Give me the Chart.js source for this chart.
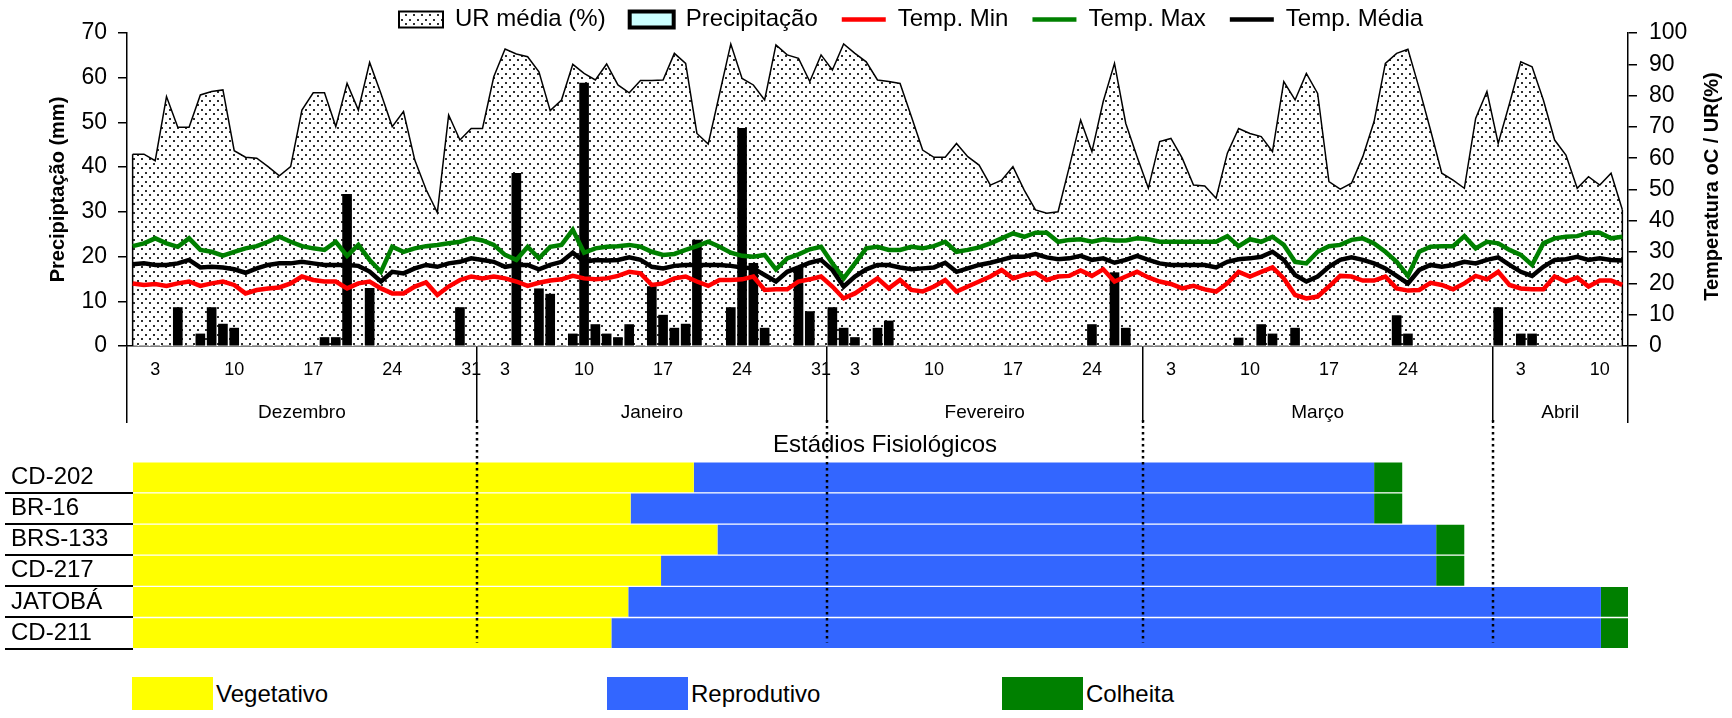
<!DOCTYPE html>
<html lang="pt">
<head>
<meta charset="utf-8">
<title>Clima e estádios fisiológicos</title>
<script src="https://cdn.jsdelivr.net/npm/chart.js@4.4.1/dist/chart.umd.min.js"></script>
<style>
  html, body { margin: 0; padding: 0; background: #fff; overflow: hidden; }
  #wrap { position: relative; width: 1732px; height: 718px; overflow: hidden; background: #fff;
          font-family: "Liberation Sans", Arial, sans-serif; color: #000; }
  #clima { position: absolute; left: 0; top: 0; }
  #fases { position: absolute; left: 0; top: 420px; }
  .leg { position: absolute; top: 677px; height: 33px; display: flex; align-items: center;
         font-size: 24px; white-space: nowrap; }
  .leg .box { display: inline-block; width: 81px; height: 33px; margin-right: 3px; }
</style>
</head>
<body>
<div id="wrap">
  <canvas id="clima" width="1732" height="430" style="width:1732px;height:430px"></canvas>
  <canvas id="fases" width="1759" height="246" style="width:1759px;height:246px"></canvas>
</div>
<script>
// ---- Calendário (1 dez a 12 abr) ----
const months = ['Dezembro', 'Janeiro', 'Fevereiro', 'Março', 'Abril'];
const monthNums = ['12', '01', '02', '03', '04'];
const monthDays = [31, 31, 28, 31, 12];
const dates = [];
monthDays.forEach((n, m) => { for (let d = 1; d <= n; d++) dates.push(monthNums[m] + '-' + String(d).padStart(2, '0')); });
const tickDates = ['12-03','12-10','12-17','12-24','12-31','01-03','01-10','01-17','01-24','01-31',
                   '02-03','02-10','02-17','02-24','03-03','03-10','03-17','03-24','04-03','04-10'];

// ---- Séries diárias ----
const urMedia = [
  61.3,61.3,59.2,79.7,69.9,69.9,80.2,81.3,81.8,62.4,
  60.3,60.0,57.3,54.4,57.3,75.4,80.9,80.9,70.1,83.9,
  75.4,90.6,80.7,70.1,74.9,59.4,50.0,42.6,73.8,65.8,
  69.5,69.5,86.0,94.9,93.3,92.4,87.6,75.2,78.6,90.0,
  87.1,85.0,90.1,83.4,80.9,84.8,84.8,85.0,93.5,90.3,
  67.9,64.5,80.5,96.5,85.5,83.4,78.6,96.2,93.0,91.9,
  84.5,93.0,88.2,96.5,93.5,90.8,85.0,84.5,83.9,73.3,
  62.6,60.3,60.3,64.7,60.5,57.8,51.4,53.0,57.3,49.8,
  43.5,42.4,42.9,57.3,72.2,62.1,78.1,90.3,71.1,60.5,
  50.4,65.3,66.3,60.0,51.4,51.1,47.2,61.6,69.5,67.9,
  66.9,62.1,84.5,78.6,87.1,80.7,52.5,50.1,52.0,60.5,
  71.7,90.3,93.5,94.8,82.3,69.0,55.2,53.0,50.4,72.7,
  81.3,64.7,77.5,90.8,89.2,78.6,65.8,61.0,50.4,54.1,
  51.4,55.2,43.5
];
const precipitacao = [
  0,0,0,0,8.6,0,2.7,8.6,4.9,4.0,
  0,0,0,0,0,0,0,1.9,1.9,33.9,
  0,12.9,0,0,0,0,0,0,0,8.6,
  0,0,0,0,38.6,0,12.8,11.6,0,2.7,
  58.8,4.8,2.7,1.9,4.8,0,13.3,6.9,4.0,4.9,
  23.7,0,0,8.6,48.7,18.5,4.0,0,0,17.4,
  7.7,0,8.6,4.0,1.9,0,4.0,5.6,0,0,
  0,0,0,0,0,0,0,0,0,0,
  0,0,0,0,0,4.8,0,16.4,4.0,0,
  0,0,0,0,0,0,0,0,1.8,0,
  4.8,2.7,0,4.0,0,0,0,0,0,0,
  0,0,6.8,2.7,0,0,0,0,0,0,
  0,8.6,0,2.7,2.7,0,0,0,0,0,
  0,0,0
];
const tempMin = [
  20.0,19.5,19.8,19.2,20.0,20.6,19.2,20.0,20.6,19.5,
  16.8,17.9,18.4,18.7,20.0,22.2,21.1,20.6,20.6,18.4,
  20.0,20.6,18.4,16.8,16.8,19.0,20.3,16.3,19.0,21.1,
  22.2,21.6,22.2,21.6,20.6,19.2,20.2,20.9,21.3,22.4,
  21.6,21.3,21.6,22.4,23.7,23.2,19.5,20.0,21.6,22.2,
  20.6,19.2,21.1,21.1,21.3,22.2,17.9,18.1,18.1,20.6,
  21.3,22.2,19.0,15.2,16.8,19.2,21.6,18.4,21.1,17.9,
  17.4,19.0,21.1,17.4,19.0,20.6,22.2,24.3,21.6,22.7,
  23.4,21.1,22.2,22.4,24.1,22.4,24.5,20.6,22.2,23.7,
  21.9,20.6,19.8,18.4,19.2,18.1,17.4,20.0,23.7,22.2,
  23.7,25.1,21.6,16.3,15.2,15.8,19.0,22.4,22.2,20.9,
  20.9,22.2,18.4,17.7,17.9,20.2,19.5,18.1,20.0,22.4,
  21.3,23.7,19.5,18.4,18.1,18.1,22.2,20.6,21.9,19.0,
  20.9,20.9,19.5
];
const tempMax = [
  31.9,32.8,34.4,32.8,31.7,34.4,30.7,30.1,28.9,30.1,
  31.2,31.9,33.3,34.9,33.3,31.9,31.2,30.7,33.3,28.8,
  32.3,27.5,23.7,31.7,30.1,31.2,31.9,32.3,32.8,33.3,
  34.4,33.7,32.3,29.1,27.5,31.7,28.0,31.7,32.3,37.1,
  29.8,31.2,31.7,31.9,32.3,31.7,30.1,29.1,29.4,30.7,
  31.9,33.3,31.7,29.8,28.8,28.5,29.1,24.5,28.0,29.3,
  30.9,31.7,26.4,21.6,26.4,31.2,31.7,30.7,30.7,31.7,
  31.2,31.9,33.3,30.1,30.7,31.5,32.8,34.4,36.0,34.9,
  36.2,36.2,33.3,33.9,34.1,33.3,34.1,33.7,33.7,34.4,
  34.1,33.3,33.3,33.3,33.3,33.3,33.3,35.1,31.9,34.1,
  33.3,34.9,32.3,26.9,26.4,30.1,31.9,32.3,33.9,34.4,
  32.8,30.1,26.9,22.4,30.1,31.7,31.9,31.9,35.1,31.2,
  33.3,32.8,30.7,29.1,25.9,32.8,34.4,34.9,35.1,36.2,
  36.2,34.4,34.9
];
const tempMedia = [
  26.1,26.4,25.9,25.9,26.4,27.5,25.1,25.3,25.1,24.5,
  23.4,24.8,25.9,26.4,26.4,26.9,26.4,25.9,25.9,25.9,
  25.6,23.8,20.6,23.7,23.2,24.8,25.9,25.3,26.4,26.9,
  28.0,27.5,26.9,25.3,25.9,25.9,24.5,25.9,26.9,29.8,
  26.9,27.5,27.3,27.5,28.3,27.5,25.3,24.8,25.6,25.9,
  25.9,25.9,25.9,25.6,25.1,24.8,22.7,20.6,23.7,25.1,
  26.6,27.5,24.3,19.0,22.2,24.5,25.9,25.9,25.1,24.5,
  24.8,25.1,26.6,23.7,24.8,25.9,26.6,27.5,28.5,28.5,
  29.4,28.3,27.7,28.0,28.8,27.5,28.0,26.6,27.5,28.8,
  27.5,26.4,25.9,25.9,25.9,25.9,25.1,26.9,27.7,28.0,
  28.5,30.1,27.5,22.7,20.6,22.2,25.3,27.5,28.3,27.5,
  26.4,24.8,22.4,20.0,24.3,25.9,25.3,25.9,26.9,26.4,
  27.5,28.3,25.9,23.7,22.4,25.3,27.5,27.7,28.5,27.5,
  28.0,27.5,27.3
];

// ---- Estádios fisiológicos (dias a partir de 1 de dezembro) ----
const cultivares = ['CD-202', 'BR-16', 'BRS-133', 'CD-217', 'JATOBÁ', 'CD-211'];
const inicioVeg   = [0, 0, 0, 0, 0, 0];
const fimVeg      = [49.7, 44.1, 51.8, 46.8, 43.9, 42.4];
const fimRep      = [110.0, 110.0, 115.5, 115.5, 130.1, 130.1];
const fimColheita = [112.5, 112.5, 118.0, 118.0, 132.5, 132.5];

// ---- Estilo geral ----
Chart.defaults.font.family = '"Liberation Sans", Arial, sans-serif';
Chart.defaults.color = '#000';

const monthStarts = [];
monthDays.reduce((acc, n) => { monthStarts.push(acc); return acc + n; }, 0);
const monthEdges = monthStarts.slice(1).map(s => s - 0.5);

// dotted fill for relative humidity
const climaCanvas = document.getElementById('clima');
function dotPattern(ctx) {
  const t = document.createElement('canvas');
  t.width = 8; t.height = 9;
  const g = t.getContext('2d');
  g.fillStyle = '#fff'; g.fillRect(0, 0, 8, 9);
  g.fillStyle = '#2e2e2e';
  g.fillRect(1, 1, 2, 2);
  g.fillRect(5, 5, 2, 2);
  return ctx.createPattern(t, 'repeat');
}
const urPattern = dotPattern(climaCanvas.getContext('2d'));

const swatches = [
  { pointStyle: 'rect', fillStyle: urPattern, strokeStyle: '#000', lineWidth: 2 },
  { pointStyle: 'rect', fillStyle: '#ccffff', strokeStyle: '#000', lineWidth: 4 },
  { pointStyle: 'line', fillStyle: '#ff0000', strokeStyle: '#ff0000', lineWidth: 4.5 },
  { pointStyle: 'line', fillStyle: '#008000', strokeStyle: '#008000', lineWidth: 4.5 },
  { pointStyle: 'line', fillStyle: '#000', strokeStyle: '#000', lineWidth: 4.5 }
];

// legend box: fixed height, items start at a given x
const legendPlace = {
  id: 'legendPlace',
  afterInit(chart) {
    const lg = chart.legend;
    const fit = lg.fit;
    lg.fit = function () { fit.call(this); this.height = 33; };
    const draw = lg.draw;
    lg.draw = function () {
      const l = this.left, t = this.top;
      this.left = 375; this.top = t - 16.5;
      draw.call(this);
      this.left = l; this.top = t;
    };
  }
};

// closes the humidity polygon at both ends
const urEdges = {
  id: 'urEdges',
  afterDatasetDraw(chart, args) {
    if (args.index !== 0) return;
    const pts = args.meta.data;
    const base = chart.scales.y1.getPixelForValue(0);
    const ctx = chart.ctx;
    ctx.save();
    ctx.strokeStyle = '#000'; ctx.lineWidth = 1.5;
    ctx.beginPath();
    [pts[0], pts[pts.length - 1]].forEach(p => { ctx.moveTo(p.x, p.y); ctx.lineTo(p.x, base); });
    ctx.stroke();
    ctx.restore();
  }
};

// month names under the day ticks, right axis title
const monthAxis = {
  id: 'monthAxis',
  afterDraw(chart) {
    const x = chart.scales.x, y1 = chart.scales.y1, ctx = chart.ctx;
    ctx.save();
    ctx.fillStyle = '#000';
    ctx.textAlign = 'center'; ctx.textBaseline = 'middle';
    ctx.font = '19px "Liberation Sans", Arial, sans-serif';
    months.forEach((m, k) => {
      const mid = monthStarts[k] + (monthDays[k] - 1) / 2;
      ctx.fillText(m, x.getPixelForValue(mid), x.top + 67);
    });
    ctx.translate(y1.right - 20, (y1.top + y1.bottom) / 2 - 3);
    ctx.rotate(-Math.PI / 2);
    ctx.font = 'bold 20px "Liberation Sans", Arial, sans-serif';
    ctx.fillText('Temperatura oC / UR(%)', 0, 0);
    ctx.restore();
  }
};

new Chart(climaCanvas, {
  data: {
    labels: dates,
    datasets: [
      { type: 'line', label: 'UR média (%)', data: urMedia, yAxisID: 'y1', order: 4,
        borderColor: '#000', borderWidth: 1.5, backgroundColor: urPattern, fill: 'origin',
        pointRadius: 0, tension: 0 },
      { type: 'bar', label: 'Precipitação', data: precipitacao, yAxisID: 'y', order: 3,
        backgroundColor: '#000', borderWidth: 0, barThickness: 9 },
      { type: 'line', label: 'Temp. Min', data: tempMin, yAxisID: 'y1', order: 2,
        borderColor: '#ff0000', borderWidth: 4.5, pointRadius: 0, fill: false, tension: 0 },
      { type: 'line', label: 'Temp. Max', data: tempMax, yAxisID: 'y1', order: 1,
        borderColor: '#008000', borderWidth: 4.5, pointRadius: 0, fill: false, tension: 0 },
      { type: 'line', label: 'Temp. Média', data: tempMedia, yAxisID: 'y1', order: 0,
        borderColor: '#000', borderWidth: 4.5, pointRadius: 0, fill: false, tension: 0 }
    ]
  },
  options: {
    responsive: false, animation: false, events: [],
    layout: { padding: 0 },
    plugins: {
      tooltip: { enabled: false },
      legend: {
        position: 'top', align: 'start',
        labels: {
          usePointStyle: true, pointStyleWidth: 44, boxHeight: 16, padding: 24,
          color: '#000', font: { size: 24 },
          generateLabels: chart => chart.data.datasets.map((ds, i) => Object.assign({
            text: ds.label, datasetIndex: i, hidden: false, fontColor: '#000'
          }, swatches[i]))
        }
      }
    },
    scales: {
      x: {
        type: 'category', offset: true,
        grid: {
          offset: true, drawOnChartArea: false, drawTicks: true, tickLength: 77, lineWidth: 1.5,
          color: c => (c.index === undefined || c.index === 0 || monthStarts.includes(c.index)) ? '#000' : 'rgba(0,0,0,0)'
        },
        border: { color: '#000', width: 1.5 },
        ticks: {
          autoSkip: false, maxRotation: 0, minRotation: 0, padding: -64, color: '#000',
          font: { size: 18 },
          callback: v => tickDates.includes(dates[v]) ? String(Number(dates[v].slice(3))) : ''
        },
        afterFit: s => { s.height = 84; }
      },
      y: {
        position: 'left', min: 0, max: 70,
        ticks: { stepSize: 10, font: { size: 23 }, color: '#000', padding: 11 },
        grid: { drawOnChartArea: false, tickLength: 9, color: '#000', lineWidth: 1.5 },
        border: { color: '#000', width: 1.5 },
        title: { display: true, text: 'Precipiptação (mm)', color: '#000',
                 font: { size: 20, weight: 'bold' }, padding: { top: 46, bottom: 0 } },
        afterFit: s => { s.width = 127; }
      },
      y1: {
        position: 'right', min: 0, max: 100,
        ticks: { stepSize: 10, font: { size: 23 }, color: '#000', padding: 12 },
        grid: { drawOnChartArea: false, tickLength: 9, color: '#000', lineWidth: 1.5 },
        border: { color: '#000', width: 1.5 },
        afterFit: s => { s.width = 104; }
      }
    }
  },
  plugins: [legendPlace, urEdges, monthAxis]
});

// ---- Estádios fisiológicos ----
const monthGuides = {
  id: 'monthGuides',
  afterDatasetsDraw(chart) {
    const x = chart.scales.x, ctx = chart.ctx;
    ctx.save();
    ctx.strokeStyle = '#000'; ctx.lineWidth = 2.5;
    ctx.setLineDash([2.5, 3.5]);
    monthEdges.forEach(v => {
      const px = Math.round(x.getPixelForValue(v));
      ctx.beginPath(); ctx.moveTo(px, 0); ctx.lineTo(px, chart.chartArea.bottom - 6); ctx.stroke();
    });
    ctx.restore();
  }
};

const barStyle = { grouped: false, barPercentage: 1, categoryPercentage: 1, borderSkipped: false,
                   borderWidth: { top: 1, bottom: 1, left: 0, right: 0 }, borderColor: 'rgba(255,255,255,0.55)' };

const fases = new Chart(document.getElementById('fases'), {
  type: 'bar',
  data: {
    labels: cultivares,
    datasets: [
      Object.assign({ label: 'Vegetativo', backgroundColor: '#ffff00',
        data: cultivares.map((c, i) => [inicioVeg[i], fimVeg[i]]) }, barStyle),
      Object.assign({ label: 'Reprodutivo', backgroundColor: '#3366ff',
        data: cultivares.map((c, i) => [fimVeg[i], fimRep[i]]) }, barStyle),
      Object.assign({ label: 'Colheita', backgroundColor: '#008000',
        data: cultivares.map((c, i) => [fimRep[i], fimColheita[i]]) }, barStyle)
    ]
  },
  options: {
    indexAxis: 'y', responsive: false, animation: false, events: [],
    layout: { padding: { left: 11, top: 0, right: 0, bottom: 2 } },
    plugins: {
      legend: { display: false }, tooltip: { enabled: false },
      title: { display: true, text: 'Estádios Fisiológicos', color: '#000',
               font: { size: 24, weight: 'normal' }, padding: { top: 11, bottom: 2 } }
    },
    scales: {
      x: { type: 'linear', min: 0, max: 132.5, display: false },
      y: {
        type: 'category', position: 'left', offset: true,
        grid: { offset: true, drawOnChartArea: false, drawTicks: true, tickLength: 128, lineWidth: 2,
                color: c => c.index === 0 ? 'rgba(0,0,0,0)' : '#000' },
        border: { display: false },
        ticks: { autoSkip: false, crossAlign: 'far', font: { size: 24 }, color: '#000' },
        afterFit: s => { s.width = 122; }
      },
      yR: {
        type: 'category', labels: cultivares, position: 'right',
        grid: { display: false }, border: { display: false }, ticks: { display: false },
        afterFit: s => { s.width = 131; }
      }
    }
  },
  plugins: [monthGuides]
});

// legend of the phases
const legendLeft = [132, 607, 1002];
const wrap = document.getElementById('wrap');
fases.data.datasets.forEach((ds, k) => {
  const d = document.createElement('div');
  d.className = 'leg';
  d.style.left = legendLeft[k] + 'px';
  const b = document.createElement('span');
  b.className = 'box'; b.style.background = ds.backgroundColor;
  d.appendChild(b);
  d.appendChild(document.createTextNode(ds.label));
  wrap.appendChild(d);
});
</script>
</body>
</html>
